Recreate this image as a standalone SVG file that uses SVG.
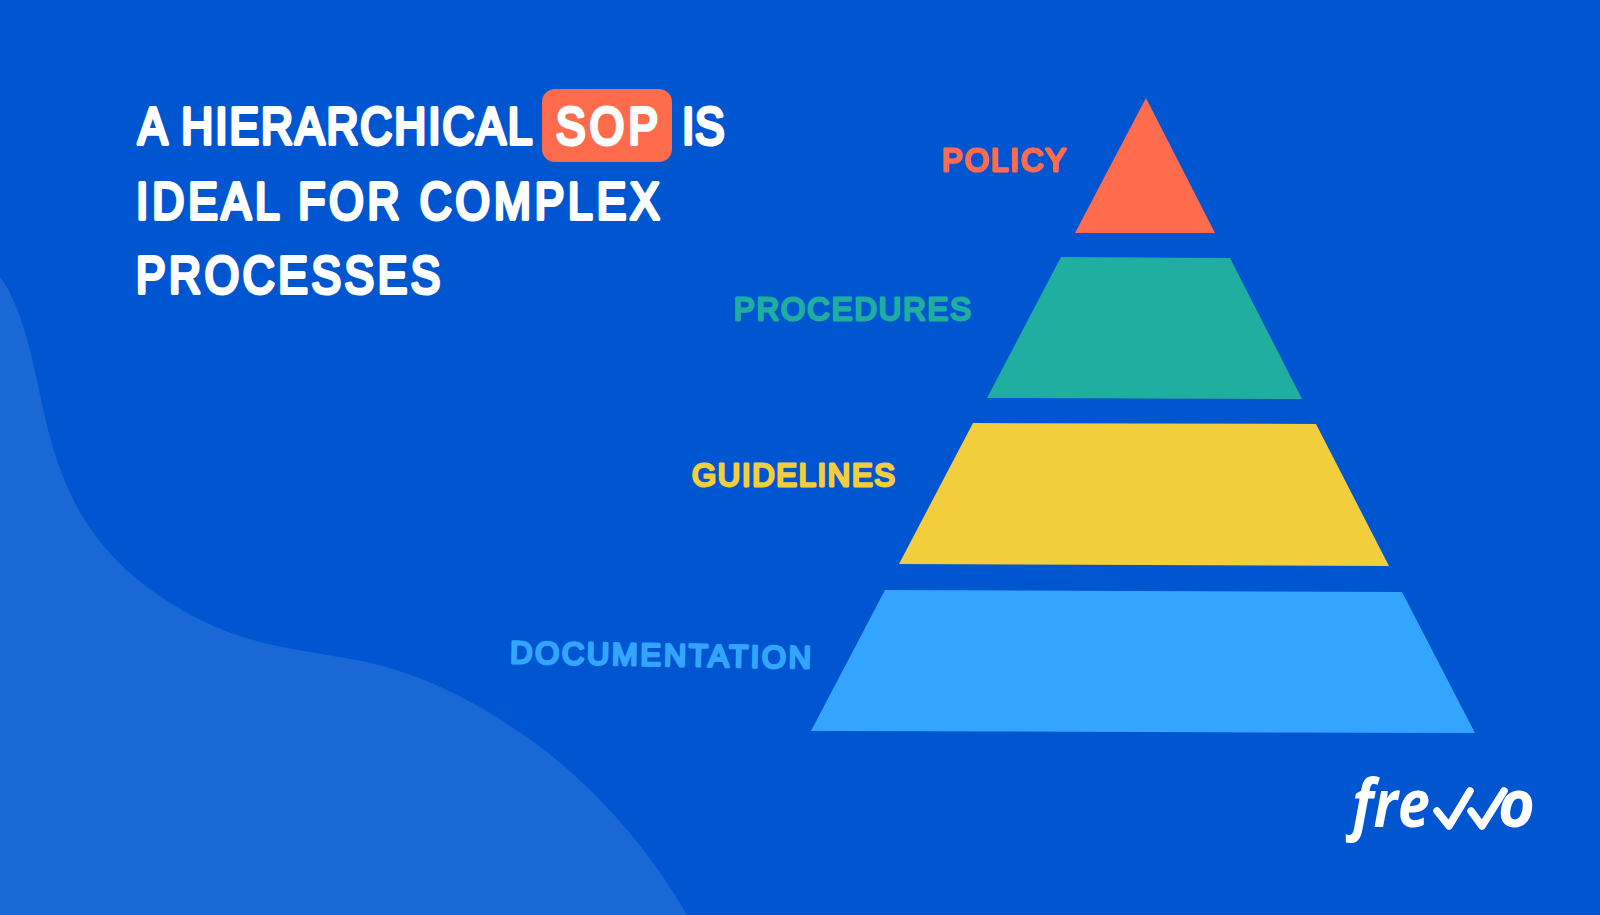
<svg xmlns="http://www.w3.org/2000/svg" width="1600" height="915" viewBox="0 0 1600 915">
<style>
.t{font-family:"Liberation Sans",Arial,sans-serif;font-weight:400;stroke-linejoin:round;stroke-linecap:round}
.h{font-size:52px;fill:#fff;stroke:#fff;stroke-width:4px}
.l{font-size:31px;stroke-width:2.8px}
.logo{font-family:"Open Sans",sans-serif;font-style:italic;font-weight:700;font-size:66px;fill:#fff}
</style>
<rect id="background" width="1600" height="915" fill="#0056D0"/>
<path id="blob" d="M0 277C18 300 30 345 38 385C48 435 58 470 76 505C100 550 140 590 201 620C250 645 300 650 357 660C420 672 480 703 535 743C595 787 650 850 687 915L0 915Z" fill="#1A67D6"/>
<g id="title">
<text class="t h" transform="translate(138 144) scale(.85 1)" textLength="464" lengthAdjust="spacing">A HIERARCHICAL</text>
<rect x="542" y="89" width="130" height="73" rx="13" fill="#FF6B4D"/>
<text class="t h" transform="translate(556 144) scale(.85 1)" textLength="120" lengthAdjust="spacing">SOP</text>
<text class="t h" transform="translate(682 144) scale(.85 1)" textLength="50" lengthAdjust="spacing">IS</text>
<text class="t h" transform="translate(136 218.5) scale(.85 1)" textLength="616" lengthAdjust="spacing">IDEAL FOR COMPLEX</text>
<text class="t h" transform="translate(136 293) scale(.85 1)" textLength="358" lengthAdjust="spacing">PROCESSES</text>
</g>
<g id="policy">
<polygon points="1146,98 1215,233 1075,233" fill="#FF6B4D"/>
<text class="t l" x="942" y="170.5" textLength="124" lengthAdjust="spacing" fill="#FF6B4D" stroke="#FF6B4D">POLICY</text>
</g>
<g id="procedures">
<polygon points="1061,257 1230,258 1302,399 987,398" fill="#1FAE9F"/>
<text class="t l" x="734" y="320" textLength="237" lengthAdjust="spacing" fill="#1FAE9F" stroke="#1FAE9F">PROCEDURES</text>
</g>
<g id="guidelines">
<polygon points="973,423 1316,424 1389,566 899,564" fill="#F2CE3D"/>
<text class="t l" x="692" y="485.5" textLength="203" lengthAdjust="spacing" fill="#F2CE3D" stroke="#F2CE3D">GUIDELINES</text>
</g>
<g id="documentation">
<polygon points="885,590 1402,592 1475,733 811,731" fill="#33A5FF"/>
<text class="t l" x="510" y="663" transform="rotate(1 510 663)" textLength="301" lengthAdjust="spacing" fill="#33A5FF" stroke="#33A5FF">DOCUMENTATION</text>
</g>
<g id="logo">
<text class="logo" x="1352" y="827" textLength="78" lengthAdjust="spacingAndGlyphs">fre</text>
<path d="M1437 811L1449 826L1470 791M1471 811L1482 826L1504 791" fill="none" stroke="#fff" stroke-width="7.5" stroke-linecap="round" stroke-linejoin="round"/>
<text class="logo" x="1498" y="827" textLength="37" lengthAdjust="spacingAndGlyphs">o</text>
</g>
</svg>
